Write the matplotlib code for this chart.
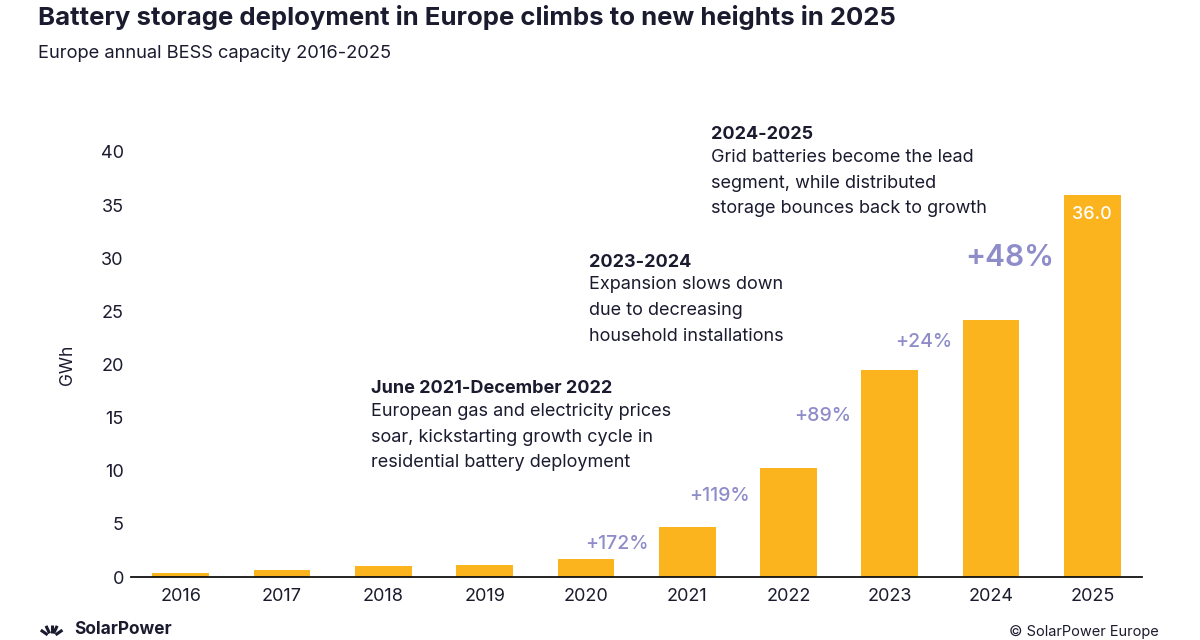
import numpy as np
import matplotlib
matplotlib.use("Agg")
import matplotlib.pyplot as plt

years = ["2016", "2017", "2018", "2019", "2020", "2021", "2022", "2023", "2024", "2025"]
capacity = [0.4, 0.7, 1.0, 1.1, 1.7, 4.7, 10.3, 19.5, 24.2, 36.0]
growth_labels = ["+172%", "+119%", "+89%", "+24%", "+48%"]
growth_years = ["2021", "2022", "2023", "2024", "2025"]
y_ticks = [0, 5, 10, 15, 20, 25, 30, 35, 40]

notes = [
    ("June 2021-December 2022",
     "European gas and electricity prices\nsoar, kickstarting growth cycle in\nresidential battery deployment"),
    ("2023-2024",
     "Expansion slows down\ndue to decreasing\nhousehold installations"),
    ("2024-2025",
     "Grid batteries become the lead\nsegment, while distributed\nstorage bounces back to growth"),
]

plt.rcParams["font.family"] = ["Inter", "DejaVu Sans"]

bar_color = "#FBB41E"
pct_color = "#8E8CC9"
text_color = "#1B1B2F"

fig = plt.figure(figsize=[12, 6.4], dpi=100)
ax = fig.add_axes([0.109, 0.0984, 0.843, 0.6641])

x = np.arange(len(years))
ax.bar(x, capacity, width=0.56, color=bar_color, zorder=2)

ax.set_xlim(-0.494, len(years) - 1 + 0.494)
ax.set_ylim(0, 40)
ax.set_yticks(y_ticks)
ax.set_yticklabels([str(t) for t in y_ticks], fontsize=13, color=text_color)
ax.set_xticks(x)
ax.set_xticklabels(years, fontsize=13, color=text_color)
ax.tick_params(axis="both", length=0)
ax.tick_params(axis="y", pad=5)
ax.tick_params(axis="x", pad=8)
for s in ["top", "right", "left"]:
    ax.spines[s].set_visible(False)
ax.spines["bottom"].set_color("#111111")
ax.spines["bottom"].set_linewidth(1.3)
ax.set_ylabel("GWh", fontsize=12.5, color=text_color, labelpad=18)

# growth labels, sitting left of each bar
pct_y = [3.1, 7.6, 15.2, 22.1, 30.0]
for i, (yr, lab) in enumerate(zip(growth_years, growth_labels)):
    xi = years.index(yr)
    big = lab == "+48%"
    ax.text(xi - 0.38, pct_y[i], lab, ha="right", va="center",
            fontsize=21.5 if big else 14, fontweight="semibold" if big else "medium",
            color=pct_color, clip_on=False)

# value inside last bar
ax.text(x[-1], capacity[-1] - 1.9, f"{capacity[-1]:.1f}", ha="center", va="center",
        fontsize=13, color="white", fontweight="medium")

# period notes
note_pos = [(1.88, 17.7), (4.03, 29.6), (5.23, 41.6)]
for (head, body), (nx, ny) in zip(notes, note_pos):
    ax.text(nx, ny, head, ha="left", va="center", fontsize=13, fontweight="bold",
            color=text_color, clip_on=False)
    ax.text(nx, ny - 1.3, body, ha="left", va="top", fontsize=13,
            color=text_color, linespacing=1.68, clip_on=False)

fig.text(0.032, 0.972, "Battery storage deployment in Europe climbs to new heights in 2025",
         fontsize=18.5, fontweight="bold", color=text_color, va="center")
fig.text(0.032, 0.917, "Europe annual BESS capacity 2016-2025",
         fontsize=13.2, color=text_color, va="center")

# small sun-ray logo mark + wordmark
ang = np.radians([35, 65, 90, 115, 145])
cx, cy = 0.043, 0.004
for a in ang:
    fig.add_artist(plt.Line2D([cx + 0.004 * np.cos(a), cx + 0.011 * np.cos(a)],
                              [cy + 0.007 * np.sin(a), cy + 0.02 * np.sin(a)],
                              color=text_color, lw=2.2, solid_capstyle="butt"))
fig.text(0.062, 0.003, "SolarPower", fontsize=12.5, fontweight="bold", color=text_color,
         va="bottom")
fig.text(0.966, 0.002, "© SolarPower Europe", fontsize=10.5, color=text_color,
         ha="right", va="bottom")

fig.savefig("out.png", dpi=100)
